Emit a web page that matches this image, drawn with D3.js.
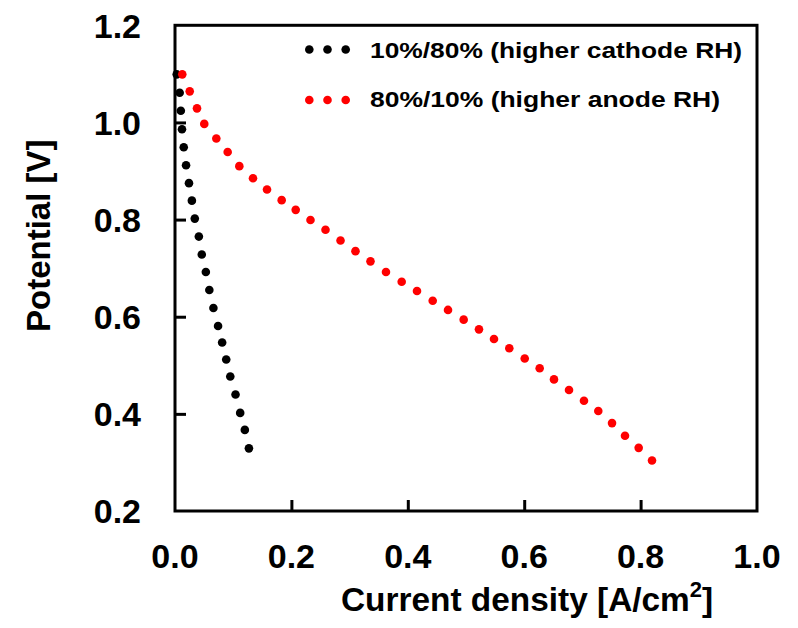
<!DOCTYPE html>
<html>
<head>
<meta charset="utf-8">
<script src="https://cdn.jsdelivr.net/npm/d3@7"></script>
<style>
  html, body { margin: 0; padding: 0; background: #fff; }
  svg { display: block; }
  text { font-family: "Liberation Sans", Arial, sans-serif; font-weight: bold; fill: #000; }
</style>
</head>
<body>
<svg id="chart" width="798" height="628"></svg>
<script>
// Polarization curves: current density [A/cm2] vs cell potential [V]
const cathodeCurrent = [0.003, 0.008, 0.010, 0.012, 0.015, 0.019, 0.024, 0.029, 0.034, 0.041, 0.046,
  0.053, 0.059, 0.066, 0.074, 0.081, 0.088, 0.095, 0.104, 0.112, 0.120, 0.127];
const cathodePotential = [1.099, 1.061, 1.024, 0.986, 0.949, 0.912, 0.875, 0.839, 0.802, 0.765, 0.728,
  0.692, 0.655, 0.618, 0.581, 0.547, 0.512, 0.477, 0.440, 0.402, 0.367, 0.329];

const anodeCurrent = [0.0125, 0.0253, 0.0378, 0.0503, 0.0710, 0.0905, 0.1105, 0.1340, 0.1581, 0.1833,
  0.2074, 0.2328, 0.2586, 0.2844, 0.3101, 0.3359, 0.3625, 0.3895, 0.4158, 0.4428, 0.4691, 0.4960,
  0.5223, 0.5481, 0.5744, 0.6009, 0.6266, 0.6512, 0.6770, 0.7027, 0.7273, 0.7509, 0.7732, 0.7967, 0.8196];
const anodePotential = [1.099, 1.064, 1.029, 0.997, 0.967, 0.939, 0.910, 0.885, 0.862, 0.840,
  0.820, 0.799, 0.779, 0.757, 0.735, 0.714, 0.692, 0.672, 0.653, 0.633, 0.614, 0.594,
  0.574, 0.554, 0.535, 0.514, 0.494, 0.471, 0.449, 0.427, 0.406, 0.381, 0.355, 0.330, 0.304];

const seriesNames = ["10%/80% (higher cathode RH)", "80%/10% (higher anode RH)"];
const seriesColors = ["#000000", "#ff0000"];

const xTicks = [0.0, 0.2, 0.4, 0.6, 0.8, 1.0];
const yTicks = [0.2, 0.4, 0.6, 0.8, 1.0, 1.2];

const svg = d3.select("#chart");
svg.append("rect").attr("width", 798).attr("height", 628).attr("fill", "#fff");

const plot = { left: 175, right: 757, top: 25.3, bottom: 511 };
const x = d3.scaleLinear().domain([0, 1]).range([plot.left, plot.right]);
const y = d3.scaleLinear().domain([0.2, 1.2]).range([plot.bottom, plot.top]);

// Inward ticks (no ticks at the frame corners)
const xAxis = d3.axisTop(x).tickValues(xTicks.slice(1, -1)).tickSize(11).tickFormat("");
const yAxis = d3.axisRight(y).tickValues(yTicks.slice(1, -1)).tickSize(11).tickFormat("");

svg.append("g").attr("transform", `translate(0,${plot.bottom})`).call(xAxis)
  .call(g => g.select(".domain").remove())
  .call(g => g.selectAll("line").attr("stroke", "#000").attr("stroke-width", 3));
svg.append("g").attr("transform", `translate(${plot.left},0)`).call(yAxis)
  .call(g => g.select(".domain").remove())
  .call(g => g.selectAll("line").attr("stroke", "#000").attr("stroke-width", 3));

// Tick labels
svg.append("g").selectAll("text").data(xTicks).join("text")
  .attr("x", d => x(d)).attr("y", 568)
  .attr("text-anchor", "middle").attr("font-size", 34)
  .text(d => d.toFixed(1));
svg.append("g").selectAll("text").data(yTicks).join("text")
  .attr("x", 141).attr("y", d => y(d) + 12.3)
  .attr("text-anchor", "end").attr("font-size", 34)
  .text(d => d.toFixed(1));

// Data: cathode-humidified curve first, anode curve on top
const series = [
  { name: seriesNames[0], color: seriesColors[0], pts: cathodeCurrent.map((c, i) => [c, cathodePotential[i]]) },
  { name: seriesNames[1], color: seriesColors[1], pts: anodeCurrent.map((c, i) => [c, anodePotential[i]]) }
];
series.forEach(s => {
  svg.append("g").selectAll("circle").data(s.pts).join("circle")
    .attr("cx", d => x(d[0])).attr("cy", d => y(d[1]))
    .attr("r", 4.3).attr("fill", s.color);
});

// Plot frame
svg.append("rect")
  .attr("x", plot.left).attr("y", plot.top)
  .attr("width", plot.right - plot.left).attr("height", plot.bottom - plot.top)
  .attr("fill", "none").attr("stroke", "#000").attr("stroke-width", 3);

// Legend
const legendRows = [{ cy: 49.5, base: 57.5, w: 372 }, { cy: 100, base: 107, w: 350 }];
series.forEach((s, i) => {
  const row = legendRows[i];
  const g = svg.append("g");
  g.selectAll("circle").data([0, 1, 2]).join("circle")
    .attr("cx", k => 309.3 + k * 18.2).attr("cy", row.cy).attr("r", 4.3).attr("fill", s.color);
  g.append("text").attr("x", 370).attr("y", row.base)
    .attr("font-size", 22)
    .attr("textLength", row.w).attr("lengthAdjust", "spacingAndGlyphs")
    .text(s.name);
});

// Axis titles
const xt = svg.append("text").attr("x", 341).attr("y", 611).attr("font-size", 33.4);
xt.append("tspan").text("Current density [A/cm");
xt.append("tspan").attr("dy", -14).attr("font-size", 22).text("2");
xt.append("tspan").attr("dy", 14).text("]");

svg.append("text")
  .attr("transform", "translate(50,332) rotate(-90)")
  .attr("font-size", 33)
  .text("Potential [V]");
</script>
</body>
</html>
